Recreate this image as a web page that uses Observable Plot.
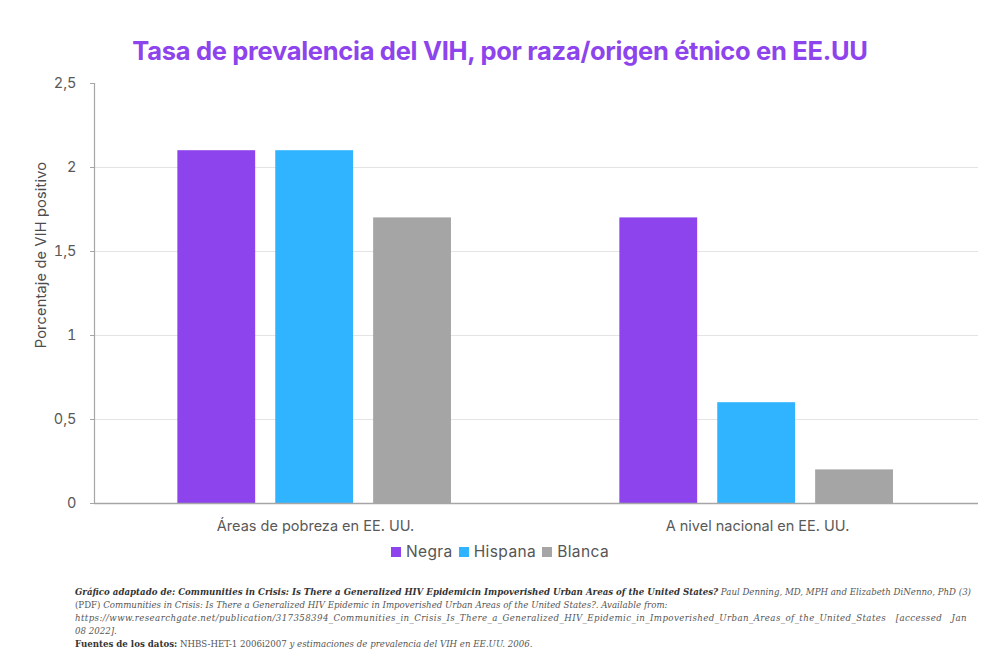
<!DOCTYPE html>
<html>
<head>
<meta charset="utf-8">
<script src="https://cdn.jsdelivr.net/npm/d3@7"></script>
<script src="https://cdn.jsdelivr.net/npm/@observablehq/plot@0.6"></script>
<style>
  html, body { margin: 0; padding: 0; background: #fff; }
  body { width: 1000px; height: 667px; position: relative; font-family: Inter, "Open Sans", sans-serif; }
  #title { position: absolute; top: 35px; left: 0; width: 1000px; text-align: center; color: #8e44ec; font-size: 25.5px; font-weight: 700; letter-spacing: -0.3px; }
  #chart { position: absolute; top: 70px; left: 0; }
  #ylabel { position: absolute; left: 40px; top: 255px; transform: translate(-50%, -50%) rotate(-90deg); white-space: nowrap; font-size: 14.5px; letter-spacing: 0.2px; color: #4d4d4d; }
  #legend { position: absolute; top: 542px; left: 0; width: 1000px; display: flex; justify-content: center; font-size: 15.5px; letter-spacing: 0.4px; color: #555; }
  #legend span.item { display: inline-flex; align-items: center; margin: 0 3px; }
  #legend span.sw { display: inline-block; width: 10px; height: 10px; margin-right: 5px; }
  #caption { position: absolute; top: 585px; left: 75px; width: 892px; font-family: "DejaVu Serif Condensed", "DejaVu Serif", serif; font-stretch: condensed; font-style: italic; font-size: 9.6px; line-height: 13px; color: #555; }
  #caption div { white-space: nowrap; text-align: justify; text-align-last: justify; }
  #caption div.last { text-align-last: left; }
  #caption b { color: #333; }
  #caption .up { font-style: normal; }
</style>
</head>
<body>
<div id="title">Tasa de prevalencia del VIH, por raza/origen étnico en EE.UU</div>
<div id="chart"></div>
<div id="ylabel">Porcentaje de VIH positivo</div>
<div id="legend"></div>
<div id="caption">
<div><b>Gráfico adaptado de: Communities in Crisis: Is There a Generalized HIV Epidemicin Impoverished Urban Areas of the United States?</b> Paul Denning, MD, MPH and Elizabeth DiNenno, PhD (3)</div>
<div class="last"><span class="up">(PDF)</span> Communities in Crisis: Is There a Generalized HIV Epidemic in Impoverished Urban Areas of the United States?. Available from:</div>
<div style="letter-spacing:0.4px">https://www.researchgate.net/publication/317358394_Communities_in_Crisis_Is_There_a_Generalized_HIV_Epidemic_in_Impoverished_Urban_Areas_of_the_United_States [accessed Jan</div>
<div class="last">08 2022].</div>
<div class="last"><b class="up">Fuentes de los datos:</b> <span class="up">NHBS-HET-1 2006i2007</span> y estimaciones de prevalencia del VIH en EE.UU. 2006.</div>
</div>
<script>
const categories = ["Áreas de pobreza en EE. UU.", "A nivel nacional en EE. UU."];
const races = ["Negra", "Hispana", "Blanca"];
const negra = [2.1, 1.7];
const hispana = [2.1, 0.6];
const blanca = [1.7, 0.2];
const colors = ["#8e44ec", "#30b4ff", "#a5a5a5"];
const yTicks = [0, 0.5, 1, 1.5, 2, 2.5];
const gridTicks = [0.5, 1, 1.5, 2];

const seriesValues = [negra, hispana, blanca];
const data = [];
categories.forEach((c, ci) => races.forEach((r, ri) => data.push({category: c, race: r, value: seriesValues[ri][ci]})));

const fmt = d => String(d).replace(".", ",");
const font = "Inter, 'Open Sans', sans-serif";

const chart = Plot.plot({
  width: 1000,
  height: 465,
  marginTop: 13,
  marginBottom: 32,
  marginLeft: 93,
  marginRight: 22,
  style: {fontFamily: font, fontSize: "14px", color: "#595959", background: "transparent"},
  fx: {domain: categories, paddingInner: 0, paddingOuter: 0, label: null},
  x: {domain: races, paddingInner: 0.205, paddingOuter: 0.86, align: 0.495, round: false, axis: null},
  y: {domain: [0, 2.5], label: null},
  color: {domain: races, range: colors},
  marks: [
    Plot.ruleY(gridTicks, {stroke: "#e4e4e4", strokeWidth: 1}),
    Plot.barY(data, {fx: "category", x: "race", y: "value", fill: "race"}),
    Plot.ruleY([0], {stroke: "#a6a6a6", strokeWidth: 1.5}),
    Plot.frame({anchor: "left", fx: () => categories[0], stroke: "#a6a6a6", strokeWidth: 1.2}),
    Plot.axisY({ticks: yTicks, tickFormat: fmt, tickSize: 4, tickPadding: 14, stroke: "#a6a6a6", strokeOpacity: 1, fontSize: 14.5, label: null}),
    Plot.axisFx({anchor: "bottom", tickSize: 0, tickPadding: 17, fontSize: 14.5, label: null})
  ]
});
document.getElementById("chart").appendChild(chart);

const legend = d3.select("#legend");
races.forEach((r, i) => {
  const item = legend.append("span").attr("class", "item");
  item.append("span").attr("class", "sw").style("background", colors[i]);
  item.append("span").text(r);
});
</script>
</body>
</html>
